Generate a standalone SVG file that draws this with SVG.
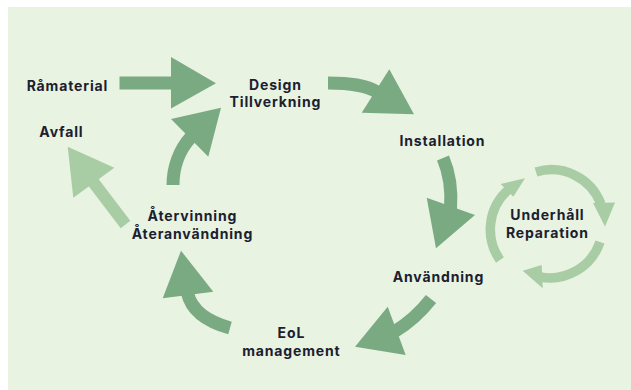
<svg xmlns="http://www.w3.org/2000/svg" width="631" height="390" viewBox="0 0 631 390">
<style>
.bg{fill:#e8f3e1}
.lbl{font-family:Inter,"Noto Sans","Liberation Sans",sans-serif;font-weight:700;font-size:14px;letter-spacing:0.85px;fill:#1b2030;text-anchor:middle}
.shaft{fill:none;stroke:#7aaa82;stroke-width:13;stroke-linecap:butt}
.head{fill:#7aaa82}
.lshaft{fill:none;stroke:#a8cca4;stroke-width:12;stroke-linecap:butt}
.lhead{fill:#a8cca4}
.ring{fill:none;stroke:#a8cca4;stroke-width:9.5;stroke-linecap:butt}
</style>
<rect x="0" y="0" width="631" height="390" fill="#ffffff"/>
<rect class="bg" x="8" y="7" width="623" height="383"/>
<g id="connectors">
  <!-- Råmaterial -> Design -->
  <path class="shaft" d="M119.5,83 L173,83" stroke-width="13.5"/>
  <polygon class="head" points="171,57 216,83.3 171,108.5"/>
  <!-- Design -> Installation -->
  <path class="shaft" d="M328,83 C350,83 366,85 378,92.5"/>
  <polygon class="head" points="361.7,112.7 389.3,69.3 414,114.3"/>
  <!-- Installation -> Användning -->
  <path class="shaft" d="M443,158 C449,172 452,190 450.5,209"/>
  <polygon class="head" points="426.7,197.7 475,215 436,248.3"/>
  <!-- Användning -> EoL -->
  <path class="shaft" d="M431,299 C420,313 409,323 394,332" stroke-width="12.2"/>
  <polygon class="head" points="387.7,306.7 405.7,355 355,346.7"/>
  <!-- EoL -> Återvinning -->
  <path class="shaft" d="M230,328 C212,323 192,313 187.5,293"/>
  <polygon class="head" points="162.7,298.3 213.3,291.7 181,250.7"/>
  <!-- Återvinning -> Design -->
  <path class="shaft" d="M173,185 C173,168 179,150 191,137"/>
  <polygon class="head" points="171,119 221,107.7 208.3,156.7"/>
  <!-- Återvinning -> Avfall -->
  <path class="lshaft" d="M125.5,224.5 L92,180.5"/>
  <polygon class="lhead" points="67.7,146.7 73.3,197.7 114.3,167.7"/>
  <!-- Underhåll cycle -->
  <path class="ring" d="M536,172 A53,53 0 0 1 601,204"/>
  <polygon class="lhead" points="593,203 615,202.5 605,226.5"/>
  <path class="ring" d="M600,242 A53,53 0 0 1 540,277"/>
  <polygon class="lhead" points="541.7,265 542.7,288.3 522.7,270.7"/>
  <path class="ring" d="M500,260 A53,53 0 0 1 508,190"/>
  <polygon class="lhead" points="500.7,184 525,178.3 513.3,196.7"/>
</g>
<g id="ramaterial"><text class="lbl" x="67.4" y="91">Råmaterial</text></g>
<g id="design"><text class="lbl" x="275.4" y="89.5">Design</text><text class="lbl" x="275.4" y="107">Tillverkning</text></g>
<g id="avfall"><text class="lbl" x="61.4" y="137">Avfall</text></g>
<g id="installation"><text class="lbl" x="442.4" y="146">Installation</text></g>
<g id="underhall"><text class="lbl" x="547.4" y="219.7">Underhåll</text><text class="lbl" x="547.4" y="237.5">Reparation</text></g>
<g id="atervinning"><text class="lbl" x="192.4" y="221">Återvinning</text><text class="lbl" x="192.4" y="238.7">Återanvändning</text></g>
<g id="anvandning"><text class="lbl" x="438.4" y="282">Användning</text></g>
<g id="eol"><text class="lbl" x="291.4" y="337.8">EoL</text><text class="lbl" x="291.4" y="355.6">management</text></g>
</svg>
